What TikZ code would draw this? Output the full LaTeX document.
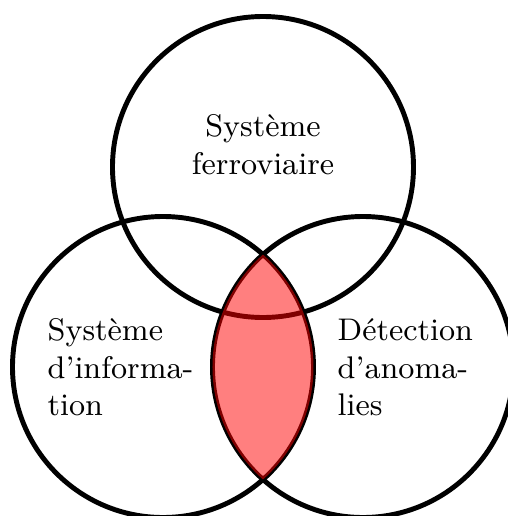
\documentclass[tikz,border=0pt]{standalone}
\usepackage{fontspec}
\usepackage{tikz}

\tikzset{
  venn/.style={line width=1.4pt},
  lbl/.style={inner sep=0pt, font=\fontsize{8.9}{10.7}\selectfont}
}

\begin{document}
\begin{tikzpicture}
  \useasboundingbox (-2.63,-3.49) rectangle (2.45,1.67);
  % define the coordinates
  \coordinate (F) at (0, 0);
  \coordinate (I) at (-1, -2);
  \coordinate (A) at (1, -2);
  % draw the circles
  \draw[venn] (F) circle (1.505);
  \draw[venn] (I) circle (1.505);
  \draw[venn] (A) circle (1.505);
  % fill the overlap
  \begin{scope}
    \clip (I) circle (1.505);
    \fill[red, fill opacity=0.5] (A) circle (1.505);
  \end{scope}
  % labels
  \node[lbl, align=center, anchor=north] (ferro) at (0, 0.53) {Système\\ferroviaire};
  \node[lbl, align=left, anchor=north west] (info) at (-2.16, -1.51) {Système\\d'informa-\\tion};
  \node[lbl, align=left, anchor=north west] (anom) at (0.74, -1.51) {Détection\\d'anoma-\\lies};
\end{tikzpicture}
\end{document}
